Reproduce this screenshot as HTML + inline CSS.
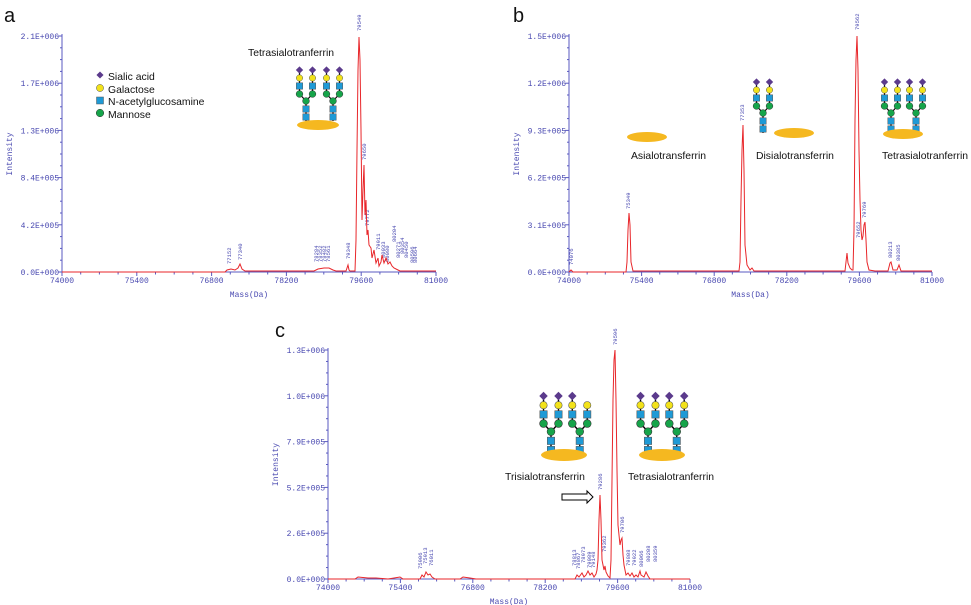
<!DOCTYPE html>
<html><head><meta charset="utf-8">
<style>
body{margin:0;background:#fff;width:971px;height:605px;overflow:hidden}
svg{display:block}
.t{font-family:"Liberation Mono",monospace;font-size:8px;fill:#4848b0}
.pk{font-family:"Liberation Mono",monospace;font-size:5.5px;fill:#4848b0}
.lab{font-family:"Liberation Sans",sans-serif;font-size:10.4px;fill:#111}
.big{font-family:"Liberation Sans",sans-serif;font-size:20px;fill:#111}
</style></head><body>
<svg id="s" width="971" height="605" viewBox="0 0 971 605" xmlns="http://www.w3.org/2000/svg">
<defs>
<g id="armn">
<line x1="0" y1="8" x2="0" y2="24" stroke="#000" stroke-width="1.2"/>
<circle cx="0" cy="8" r="3.2" fill="#f2e21a" stroke="#555" stroke-width=".5"/>
<rect x="-3.2" y="12.8" width="6.4" height="6.4" fill="#1e9ad6" stroke="#555" stroke-width=".5"/>
<circle cx="0" cy="24" r="3.4" fill="#16a44a" stroke="#333" stroke-width=".5"/>
</g>
<g id="arm">
<line x1="0" y1="0" x2="0" y2="8" stroke="#000" stroke-width="1.2"/>
<rect x="-2.6" y="-2.6" width="5.2" height="5.2" fill="#5b3a8c" transform="rotate(45)"/>
<use href="#armn"/>
</g>
<g id="base">
<line x1="-6.5" y1="24" x2="0" y2="31" stroke="#000" stroke-width="1.2"/>
<line x1="6.5" y1="24" x2="0" y2="31" stroke="#000" stroke-width="1.2"/>
<line x1="0" y1="31" x2="0" y2="51" stroke="#000" stroke-width="1.2"/>
<circle cx="0" cy="31" r="3.4" fill="#16a44a" stroke="#333" stroke-width=".5"/>
<rect x="-3.2" y="35.8" width="6.4" height="6.4" fill="#1e9ad6" stroke="#555" stroke-width=".5"/>
<rect x="-3.2" y="43.8" width="6.4" height="6.4" fill="#1e9ad6" stroke="#555" stroke-width=".5"/>
</g>
<g id="br"><use href="#base"/><use href="#arm" x="-6.5"/><use href="#arm" x="6.5"/></g>
<g id="br1"><use href="#base"/><use href="#arm" x="-6.5"/><use href="#armn" x="6.5"/></g>
</defs>
<g id="axes"></g>

<text class="big" x="4" y="22">a</text>
<text class="big" x="513" y="22">b</text>
<text class="big" x="275" y="337">c</text>

<!-- panel a -->
<polyline fill="none" stroke="#e8262a" stroke-width="1" points="62,272 225,272 227,270 231,269 235,270 238,268 240,264 242,269 245,271 314,271 318,269 324,268 329,268 333,270 336,271 346,271 347,268 348,265 349,270 350,271 355,271 356,240 357,150 358,70 359,37 360,60 361,130 362,220 363,190 364,165 365,215 366,200 367,235 368,230 369,245 371,248 372,258 374,250 376,263 378,258 379,266 381,262 382,255 384,263 386,258 388,264 390,262 392,266 394,268 398,270 400,271 436,271"/>
<rect x="97.5" y="72.5" width="5" height="5" fill="#5b3a8c" transform="rotate(45 100 75)"/>
<text class="lab" x="108" y="80">Sialic acid</text>
<circle cx="100" cy="88" r="3.6" fill="#f2e21a" stroke="#555" stroke-width=".5"/>
<text class="lab" x="108" y="93">Galactose</text>
<rect x="96.5" y="97" width="7" height="7" fill="#1e9ad6" stroke="#555" stroke-width=".5"/>
<text class="lab" x="108" y="105">N-acetylglucosamine</text>
<circle cx="100" cy="113" r="3.8" fill="#16a44a" stroke="#333" stroke-width=".5"/>
<text class="lab" x="108" y="118">Mannose</text>
<text class="lab" x="248" y="56">Tetrasialotranferrin</text>
<use href="#br" x="306" y="70"/><use href="#br" x="333" y="70"/>
<ellipse cx="318" cy="125" rx="21" ry="5" fill="#f5b820"/>

<!-- panel b -->
<polyline fill="none" stroke="#e8262a" stroke-width="1" points="569,272 571,270 573,272 626,272 627,262 628,230 629,213 630,225 631,262 633,271 739,271 740,262 741,200 742,150 743,125 744,170 745,245 747,265 750,270 752,268 754,271 845,271 846,262 847,253 848,263 850,268 852,270 853,270 854,230 855,120 856,60 857,36 858,70 859,150 860,200 861,230 862,240 863,236 864,225 865,222 866,240 867,262 869,270 875,271 888,271 890,263 891,262 893,270 897,270 899,265 901,271 932,271"/>
<ellipse cx="647" cy="137" rx="20" ry="5" fill="#f5b820"/>
<text class="lab" x="631" y="159">Asialotransferrin</text>
<use href="#br" x="763" y="82"/>
<ellipse cx="794" cy="133" rx="20" ry="5" fill="#f5b820"/>
<text class="lab" x="756" y="159">Disialotransferrin</text>
<use href="#br" x="891" y="82"/><use href="#br" x="916" y="82"/>
<ellipse cx="903" cy="134" rx="20" ry="5" fill="#f5b820"/>
<text class="lab" x="882" y="159">Tetrasialotranferrin</text>

<!-- panel c -->
<polyline fill="none" stroke="#e8262a" stroke-width="1" points="328,579 355,579 358,577 368,578 376,578 388,579 400,577 403,579 420,579 422,575 424,577 426,572 428,575 430,574 432,577 435,579 460,579 463,577 470,578 476,579 575,579 577,575 579,577 582,573 584,577 586,575 588,571 590,575 592,573 594,577 596,574 597,570 598,560 599,520 600,495 601,520 602,560 603,565 604,570 605,566 606,572 607,574 608,576 610,578 611,560 612,480 613,400 614,360 615,350 616,400 617,470 618,525 619,535 620,545 621,540 622,538 623,555 624,565 626,575 628,573 630,576 632,573 634,577 636,575 638,577 640,571 641,575 644,577 646,572 648,576 650,579 690,579"/>
<g transform="translate(551,396) scale(1.15)"><use href="#br"/><use href="#br1" x="25"/></g>
<g transform="translate(648,396) scale(1.15)"><use href="#br"/><use href="#br" x="25"/></g>
<ellipse cx="564" cy="455" rx="23" ry="6" fill="#f5b820"/>
<ellipse cx="662" cy="455" rx="23" ry="6" fill="#f5b820"/>
<text class="lab" x="505" y="480">Trisialotransferrin</text>
<text class="lab" x="628" y="480">Tetrasialotranferrin</text>
<polygon points="562,494 587,494 587,491 593,497 587,503 587,500 562,500" fill="#fff" stroke="#000" stroke-width="1"/>
</svg>
<script>
var NS="http://www.w3.org/2000/svg",g=document.getElementById("axes");
function el(t,a,txt){var e=document.createElementNS(NS,t);for(var k in a)e.setAttribute(k,a[k]);if(txt)e.textContent=txt;g.appendChild(e);return e;}
function axis(x0,x1,y0,y1,ylabs,peaks){
 var c="#5a5ac0";
 el("line",{x1:x0,y1:y0,x2:x1,y2:y0,stroke:c,"stroke-width":1});
 el("line",{x1:x0,y1:y0,x2:x0,y2:y1-2,stroke:c,"stroke-width":1});
 var xl=["74000","75400","76800","78200","79600","81000"];
 for(var i=0;i<=20;i++){var x=x0+(x1-x0)*i/20;el("line",{x1:x,y1:y0,x2:x,y2:y0+(i%4==0?4:2.5),stroke:c});}
 for(i=0;i<6;i++){el("text",{class:"t",x:x0+(x1-x0)*i/5,y:y0+11,"text-anchor":"middle"},xl[i]);}
 el("text",{class:"t",x:(x0+x1)/2,y:y0+25,"text-anchor":"middle"},"Mass(Da)");
 var n=ylabs.length-1;
 for(i=0;i<=n*4;i++){var y=y0-(y0-y1)*i/(n*4);el("line",{x1:x0,y1:y,x2:x0-(i%4==0?4:2),y2:y,stroke:c});}
 for(i=0;i<=n;i++){el("text",{class:"t",x:x0-3,y:y0-(y0-y1)*i/n+3,"text-anchor":"end"},ylabs[i]);}
 el("text",{class:"t",x:0,y:0,transform:"translate("+(x0-50)+","+((y0+y1)/2)+") rotate(-90)","text-anchor":"middle"},"Intensity");
 peaks.forEach(function(p){el("text",{class:"pk",x:0,y:0,transform:"translate("+(p[0]+2)+","+p[1]+") rotate(-90)"},p[2]);});
}
axis(62,436,272,36,["0.0E+000","4.2E+005","8.4E+005","1.3E+006","1.7E+006","2.1E+006"],
 [[229,264,"77152"],[240,260,"77340"],[316,262,"78284"],[320,262,"78352"],[324,262,"78482"],[328,262,"78561"],[348,259,"79348"],[359,31,"79549"],[364,160,"79650"],[367,226,"79772"],[378,250,"79911"],[383,258,"80033"],[387,262,"80080"],[394,242,"80204"],[398,258,"80271"],[402,254,"80354"],[406,258,"80450"],[412,263,"80596"],[415,263,"80664"]]);
axis(569,932,272,36,["0.0E+000","3.1E+005","6.2E+005","9.3E+005","1.2E+006","1.5E+006"],
 [[571,265,"74076"],[628,209,"75349"],[742,121,"77353"],[857,30,"79562"],[858,238,"79652"],[864,218,"79769"],[890,258,"80213"],[898,261,"80385"]]);
axis(328,690,579,350,["0.0E+000","2.6E+005","5.2E+005","7.9E+005","1.0E+006","1.3E+006"],
 [[420,569,"75906"],[425,564,"75913"],[431,566,"76011"],[574,566,"78813"],[578,569,"78867"],[583,563,"78973"],[589,568,"79089"],[593,568,"79148"],[600,490,"79286"],[604,552,"79362"],[615,345,"79596"],[622,533,"79706"],[628,566,"79808"],[634,566,"79922"],[641,567,"80066"],[648,562,"80208"],[655,562,"80359"]]);
</script>
</body></html>
